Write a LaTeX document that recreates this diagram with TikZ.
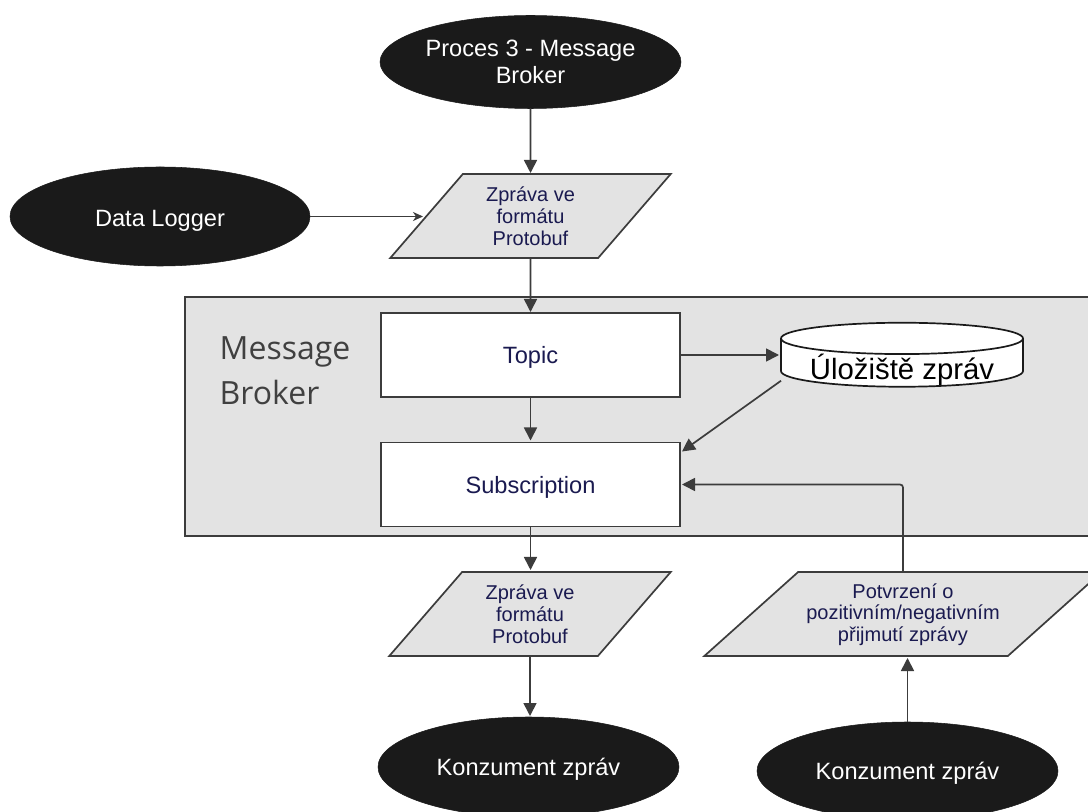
\documentclass[tikz,border=0pt]{standalone}
\usepackage{fontspec}
\setmainfont{Liberation Sans}
\newfontfamily\brokerfont{Open Sans}
\usetikzlibrary{shapes.geometric,arrows.meta,calc}
\def\px{0.75pt}
\definecolor{inkdark}{HTML}{1A1A1A}
\definecolor{navy}{HTML}{1A1A50}
\definecolor{panel}{HTML}{E3E3E3}
\definecolor{edge}{HTML}{3C3C3C}
\tikzset{
  terminal/.style={ellipse,fill=inkdark,draw=inkdark,text=white,minimum width=301*\px,minimum height=94*\px,inner sep=0pt,outer sep=0pt,align=center,font=\fontsize{17.7pt}{19.8pt}\selectfont},
  datapar/.style={trapezium,trapezium stretches=true,fill=panel,draw=edge,line width=1.7*\px,text=navy,minimum height=84*\px,inner sep=0pt,outer sep=0pt,align=center,font=\fontsize{15pt}{16.5pt}\selectfont},
  process/.style={rectangle,fill=white,draw=edge,line width=1.7*\px,text=navy,minimum width=299*\px,minimum height=84*\px,inner sep=0pt,outer sep=0pt,font=\fontsize{17.7pt}{20pt}\selectfont},
  store/.style={cylinder,shape border rotate=90,aspect=0.17,fill=white,draw=inkdark,line width=1.7*\px,text=black,minimum width=242*\px,minimum height=64*\px,inner sep=0pt,outer sep=0pt,font=\fontsize{22pt}{24pt}\selectfont},
  flow/.style={draw=edge,line width=1.7*\px,-{Stealth[length=13*\px,width=13*\px,inset=0pt]}},
  thinflow/.style={draw=edge,line width=1.7*\px,-{Stealth[length=10*\px,width=9*\px,inset=3*\px]}}
}
\begin{document}
\begin{tikzpicture}[x=0.75pt,y=-0.75pt]
\useasboundingbox (0,0) rectangle (1088,812);
\fill[white] (0,0) rectangle (1088,812);
\node[rectangle,fill=panel,draw=edge,line width=1.7*\px,minimum width=920*\px,minimum height=239*\px,inner sep=0pt,outer sep=0pt] (panelbox) at (645,416.5) {};
\node[anchor=west,text=black!75,align=left,font=\brokerfont\fontsize{24pt}{33.75pt}\selectfont] (brokerlabel) at (215,371) {Message\\Broker};
\node[terminal,minimum height=93*\px] (proc) at (530.5,62) {Proces 3 - Message\\Broker};
\node[terminal,minimum width=300*\px,minimum height=99*\px] (logger) at (160,216.5) {\raisebox{-3pt}[\height][\depth]{Data Logger}};
\node[datapar,trapezium left angle=51,trapezium right angle=129,minimum width=281*\px] (msgin) at (530.5,216) {Zpráva ve\\formátu\\Protobuf};
\node[process] (topic) at (530.5,355) {\raisebox{-1.5pt}[\height][\depth]{Topic}};
\node[process] (sub) at (530.5,484.5) {\raisebox{-2.2pt}[\height][\depth]{Subscription}};
\node[store] (cyl) at (902,363) {\raisebox{-12.25pt}[0pt][0pt]{Úložiště zpráv}};
\node[datapar,trapezium left angle=51,trapezium right angle=129,minimum width=282*\px] (msgout) at (530,614) {Zpráva ve\\formátu\\Protobuf};
\node[datapar,trapezium left angle=36,trapezium right angle=144,minimum width=398*\px] (ack) at (903,614) {\raisebox{-0.7pt}[\height][\depth]{Potvrzení o}\\pozitivním/negativním\\přijmutí zprávy};
\node[terminal,minimum height=100*\px] (cons1) at (528.5,767) {\raisebox{-1.5pt}[\height][\depth]{Konzument zpráv}};
\node[terminal,minimum height=98*\px] (cons2) at (907.5,771) {\raisebox{-1.5pt}[\height][\depth]{Konzument zpráv}};
\draw[flow] (proc.south) -- ($(msgin.north)+(0,-1)$);
\draw[thinflow] (logger.east) -- ($(logger.east)+(113,0)$) coordinate (loggerend);
\draw[flow] (msgin.south) -- ($(topic.north)+(0,-1)$);
\draw[flow] (topic.south) -- ($(sub.north)+(0,-2)$);
\draw[flow] (topic.east) -- ($(topic.east -| cyl.west)+(-2,0)$);
\coordinate (cylout) at ($(cyl.west |- cyl.south)+(0,-6)$);
\draw[flow] (cylout) -- ($(sub.north east)+(2,9)$);
\draw[flow,rounded corners=3*\px] (ack.north) -- (ack.north |- sub.east) -- ($(sub.east)+(2,0)$);
\draw[flow] (sub.south) -- ($(sub.south |- msgout.north)+(0,-2)$);
\draw[flow] (msgout.south) -- ($(msgout.south |- cons1.north)+(0,-1)$);
\draw[flow] (cons2.north) -- ($(cons2.north |- ack.south)+(0,2)$);
\end{tikzpicture}
\end{document}
